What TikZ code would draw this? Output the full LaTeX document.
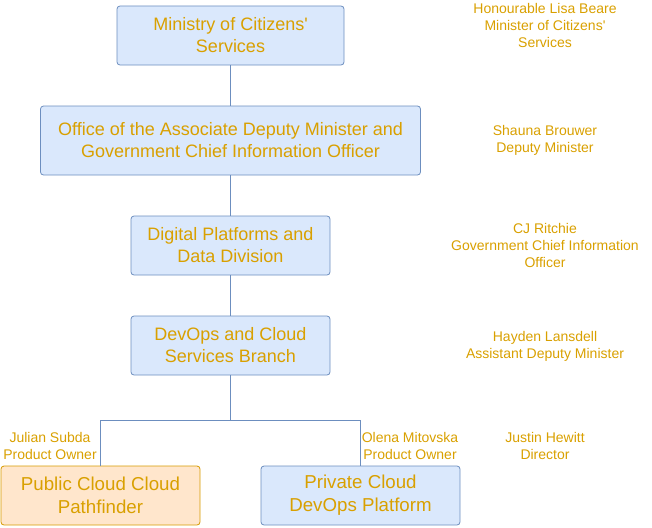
\documentclass[tikz,border=0pt]{standalone}
\usepackage{fontspec}
\setmainfont{Liberation Sans}
\definecolor{boxfill}{HTML}{DAE8FC}
\definecolor{boxline}{HTML}{6C8EBF}
\definecolor{orfill}{HTML}{FFE6CC}
\definecolor{orline}{HTML}{D79B00}
\definecolor{txt}{HTML}{D9A000}
\begin{document}
\begin{tikzpicture}[x=1pt,y=-1pt,
  unit/.style={draw=boxline,fill=boxfill,rounded corners=3pt,line width=0.8pt,
    text=txt,align=center,inner sep=0pt,font=\fontsize{18}{22}\selectfont},
  big/.style={font=\fontsize{18.7}{23}\selectfont},
  team/.style={unit,big,draw=orline,fill=orfill},
  lbl/.style={text=txt,align=center,inner sep=0pt,font=\fontsize{14}{17}\selectfont},
  conn/.style={draw=boxline,line width=0.8pt}]
\useasboundingbox (0,0) rectangle (652,527);
\node[unit,minimum width=227pt,minimum height=59pt] (m) at (230.5,35.5) {Ministry of Citizens\textquotesingle\\Services};
\node[unit,minimum width=380pt,minimum height=69pt] (o) at (230.5,140.5) {Office of the Associate Deputy Minister and\\Government Chief Information Officer};
\node[unit,minimum width=199pt,minimum height=59pt] (d) at (230.5,245.5) {Digital Platforms and\\Data Division};
\node[unit,minimum width=199pt,minimum height=59pt] (b) at (230.5,345.5) {DevOps and Cloud\\Services Branch};
\node[team,minimum width=199pt,minimum height=59pt] (p) at (100.5,495.5) {Public Cloud Cloud\\Pathfinder};
\node[unit,big,minimum width=199pt,minimum height=59pt] (q) at (360.5,495.5) {Private Cloud\\DevOps Platform};
\coordinate (j) at (230.5,420);
\draw[conn] (m) -- (o);
\draw[conn] (o) -- (d);
\draw[conn] (d) -- (b);
\draw[conn] (b.south) -- (j);
\draw[conn] (j) -| (p.north);
\draw[conn] (j) -| (q.north);
\node[lbl] (l1) at (545,25) {Honourable Lisa Beare\\Minister of Citizens\textquotesingle\\Services};
\node[lbl] (l2) at (545,140.5) {Shauna Brouwer\\Deputy Minister};
\node[lbl] (l3) at (545,245.5) {CJ Ritchie\\Government Chief Information\\Officer};
\node[lbl] (l4) at (545,346) {Hayden Lansdell\\Assistant Deputy Minister};
\node[lbl] (l5) at (545,445.5) {Justin Hewitt\\Director};
\node[lbl] (l6) at (50,445.5) {Julian Subda\\Product Owner};
\node[lbl] (l7) at (410,445.5) {Olena Mitovska\\Product Owner};
\end{tikzpicture}
\end{document}
